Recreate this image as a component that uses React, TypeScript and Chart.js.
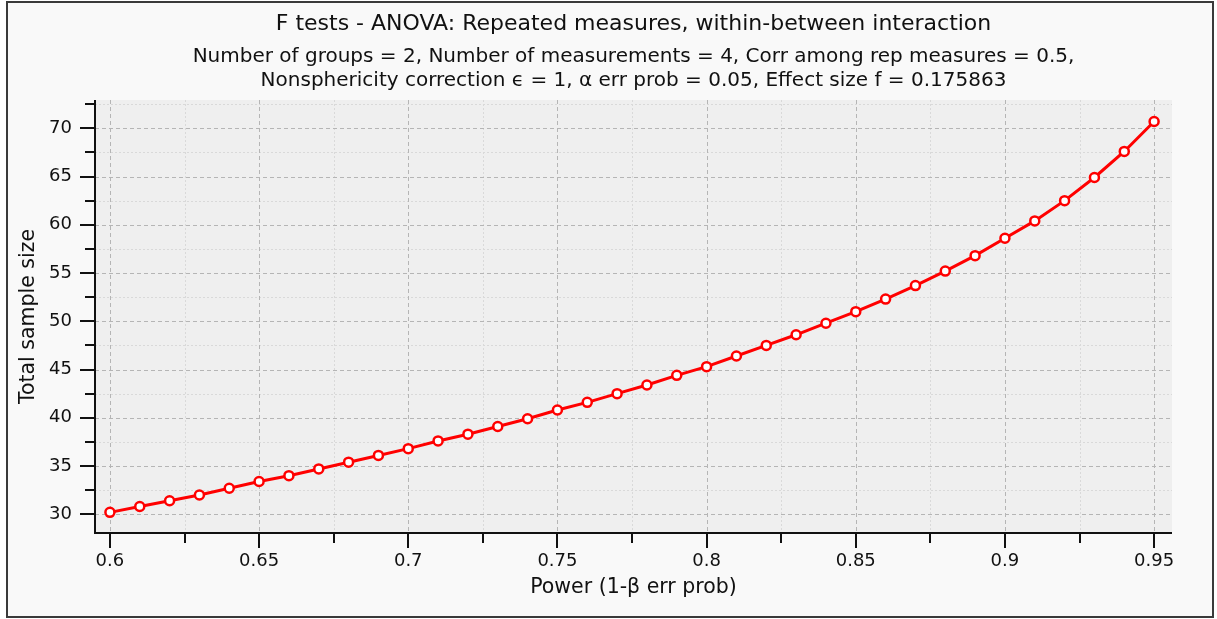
import React, { useEffect, useRef } from 'react';
import { Chart, registerables } from 'chart.js';

Chart.register(...registerables);

const powerValues = [
  0.6, 0.61, 0.62, 0.63, 0.64, 0.65, 0.66, 0.67, 0.68, 0.69,
  0.7, 0.71, 0.72, 0.73, 0.74, 0.75, 0.76, 0.77, 0.78, 0.79,
  0.8, 0.81, 0.82, 0.83, 0.84, 0.85, 0.86, 0.87, 0.88, 0.89,
  0.9, 0.91, 0.92, 0.93, 0.94, 0.95,
];
const sampleSizes = [
  30.2, 30.8, 31.4, 32.0, 32.7, 33.4, 34.0, 34.7, 35.4, 36.1,
  36.8, 37.6, 38.3, 39.1, 39.9, 40.8, 41.6, 42.5, 43.4, 44.4,
  45.3, 46.4, 47.5, 48.6, 49.8, 51.0, 52.3, 53.7, 55.2, 56.8,
  58.6, 60.4, 62.5, 64.9, 67.6, 70.7,
];
const xTickValues = [0.6, 0.65, 0.7, 0.75, 0.8, 0.85, 0.9, 0.95];
const xMinorTicks = [0.625, 0.675, 0.725, 0.775, 0.825, 0.875, 0.925];
const yTickValues = [30, 35, 40, 45, 50, 55, 60, 65, 70];
const yMinorTicks = [32.5, 37.5, 42.5, 47.5, 52.5, 57.5, 62.5, 67.5, 72.5];

const titleText = 'F tests - ANOVA: Repeated measures, within-between interaction';
const subtitleLines = [
  'Number of groups = 2, Number of measurements = 4, Corr among rep measures = 0.5,',
  'Nonsphericity correction \u03f5 = 1, \u03b1 err prob = 0.05, Effect size f = 0.175863',
];
const xTitle = 'Power (1-\u03b2 err prob)';
const yTitle = 'Total sample size';

const FONT = '"DejaVu Sans", "Lucida Sans", sans-serif';

const gridPlugin = {
  id: 'customGrid',
  beforeDatasetsDraw(chart: any) {
    const { ctx, chartArea } = chart;
    const xs = chart.scales.x;
    const ys = chart.scales.y;
    ctx.save();
    ctx.fillStyle = '#efefef';
    ctx.fillRect(chartArea.left, chartArea.top, chartArea.right - chartArea.left, chartArea.bottom - chartArea.top);
    ctx.lineWidth = 1;
    ctx.strokeStyle = '#d9d9d9';
    ctx.setLineDash([2, 2]);
    ctx.beginPath();
    xMinorTicks.forEach((v) => {
      const px = Math.round(xs.getPixelForValue(v)) + 0.5;
      ctx.moveTo(px, chartArea.top);
      ctx.lineTo(px, chartArea.bottom);
    });
    yMinorTicks.forEach((v) => {
      const py = Math.round(ys.getPixelForValue(v)) + 0.5;
      ctx.moveTo(chartArea.left, py);
      ctx.lineTo(chartArea.right, py);
    });
    ctx.stroke();
    ctx.strokeStyle = '#b5b5b5';
    ctx.setLineDash([4, 3]);
    ctx.beginPath();
    xTickValues.forEach((v) => {
      const px = Math.round(xs.getPixelForValue(v)) + 0.5;
      ctx.moveTo(px, chartArea.top);
      ctx.lineTo(px, chartArea.bottom);
    });
    yTickValues.forEach((v) => {
      const py = Math.round(ys.getPixelForValue(v)) + 0.5;
      ctx.moveTo(chartArea.left, py);
      ctx.lineTo(chartArea.right, py);
    });
    ctx.stroke();
    ctx.restore();
  },
  afterDatasetsDraw(chart: any) {
    const { ctx, chartArea } = chart;
    const xs = chart.scales.x;
    const ys = chart.scales.y;
    ctx.save();
    ctx.setLineDash([]);
    ctx.strokeStyle = '#111';
    ctx.lineWidth = 2;
    ctx.beginPath();
    ctx.moveTo(chartArea.left, chartArea.top);
    ctx.lineTo(chartArea.left, chartArea.bottom);
    ctx.lineTo(chartArea.right, chartArea.bottom);
    xTickValues.forEach((v) => {
      const px = Math.round(xs.getPixelForValue(v));
      ctx.moveTo(px, chartArea.bottom);
      ctx.lineTo(px, chartArea.bottom + 15);
    });
    xMinorTicks.forEach((v) => {
      const px = Math.round(xs.getPixelForValue(v));
      ctx.moveTo(px, chartArea.bottom);
      ctx.lineTo(px, chartArea.bottom + 10);
    });
    yTickValues.forEach((v) => {
      const py = Math.round(ys.getPixelForValue(v));
      ctx.moveTo(chartArea.left, py);
      ctx.lineTo(chartArea.left - 15, py);
    });
    yMinorTicks.forEach((v) => {
      const py = Math.round(ys.getPixelForValue(v));
      ctx.moveTo(chartArea.left, py);
      ctx.lineTo(chartArea.left - 10, py);
    });
    ctx.stroke();
    ctx.restore();
  },
};

export default function App() {
  const canvasRef = useRef<HTMLCanvasElement | null>(null);

  useEffect(() => {
    document.body.style.margin = '0';
    const canvas = canvasRef.current;
    if (!canvas) return;
    const chart = new Chart(canvas, {
      type: 'line',
      data: {
        datasets: [
          {
            data: powerValues.map((p, i) => ({ x: p, y: sampleSizes[i] })),
            borderColor: '#ff0000',
            borderWidth: 3,
            pointRadius: 4.5,
            pointBorderWidth: 2.5,
            pointBackgroundColor: '#ffffff',
            pointBorderColor: '#ff0000',
            tension: 0,
            fill: false,
          },
        ],
      },
      options: {
        responsive: false,
        animation: false,
        events: [],
        layout: { padding: { left: 0, right: 45, top: 0, bottom: 0 } },
        plugins: {
          legend: { display: false },
          tooltip: { enabled: false },
          title: {
            display: true,
            text: titleText,
            fullSize: false,
            color: '#111',
            font: { family: FONT, size: 22, weight: 'normal', lineHeight: 24 / 22 },
            padding: { top: 12, bottom: 4 },
          },
          subtitle: {
            display: true,
            text: subtitleLines,
            fullSize: false,
            color: '#111',
            font: { family: FONT, size: 20, weight: 'normal', lineHeight: 1.2 },
            padding: { top: 5, bottom: 7 },
          },
        },
        scales: {
          x: {
            type: 'linear',
            min: 0.595,
            max: 0.956,
            afterBuildTicks: (scale: any) => {
              scale.ticks = xTickValues.map((v) => ({ value: v }));
            },
            afterFit: (scale: any) => {
              scale.height = 86;
            },
            grid: { display: true, drawOnChartArea: false, drawTicks: true, tickLength: 15, color: 'rgba(0,0,0,0)' },
            border: { display: false },
            ticks: {
              color: '#111',
              font: { family: FONT, size: 18, lineHeight: 1.2 },
              padding: 3,
              maxRotation: 0,
              autoSkip: false,
              callback: (v: any) => String(Number(v)),
            },
            title: {
              display: true,
              text: xTitle,
              color: '#111',
              font: { family: FONT, size: 20.5, lineHeight: 1.2 },
              padding: { top: 0, bottom: 19.5 },
            },
          },
          y: {
            type: 'linear',
            min: 28.06,
            max: 72.93,
            afterBuildTicks: (scale: any) => {
              scale.ticks = yTickValues.map((v) => ({ value: v }));
            },
            afterFit: (scale: any) => {
              scale.width = 95;
            },
            grid: { display: true, drawOnChartArea: false, drawTicks: true, tickLength: 15, color: 'rgba(0,0,0,0)' },
            border: { display: false },
            ticks: {
              color: '#111',
              font: { family: FONT, size: 18, lineHeight: 1.2 },
              padding: 8,
              autoSkip: false,
              callback: (v: any) => String(Number(v)),
            },
            title: {
              display: true,
              text: yTitle,
              color: '#111',
              font: { family: FONT, size: 20.5, lineHeight: 1.2 },
              padding: { top: 16, bottom: 0 },
            },
          },
        },
      },
      plugins: [gridPlugin],
    });
    return () => chart.destroy();
  }, []);

  return (
    <div style={{ position: 'relative', width: 1217, height: 619, background: '#ffffff' }}>
      <div
        style={{
          position: 'absolute',
          left: 6,
          top: 1,
          width: 1208,
          height: 617,
          boxSizing: 'border-box',
          border: '2px solid #3a3a3a',
          background: '#f9f9f9',
        }}
      />
      <canvas
        ref={canvasRef}
        width={1217}
        height={619}
        style={{ position: 'absolute', left: 0, top: 0, width: 1217, height: 619, display: 'block' }}
      />
    </div>
  );
}
